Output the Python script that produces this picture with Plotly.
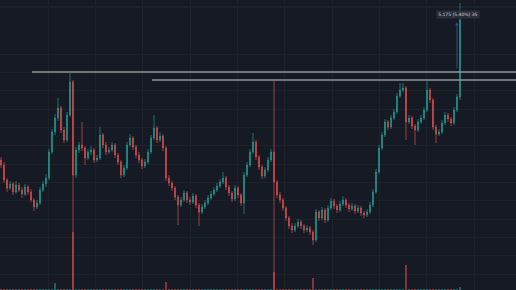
import plotly.graph_objects as go

# ---- data (prices) ----
closes = [
    4.575, 4.500, 4.460, 4.480, 4.440, 4.475, 4.450, 4.430, 4.465, 4.440,
    4.400, 4.365, 4.385, 4.450, 4.480, 4.510, 4.640, 4.740, 4.810, 4.860,
    4.750, 4.700, 4.825, 4.990, 4.525, 4.650, 4.675, 4.660, 4.610, 4.640,
    4.650, 4.600, 4.610, 4.725, 4.675, 4.640, 4.650, 4.675, 4.625, 4.590,
    4.525, 4.560, 4.675, 4.710, 4.665, 4.625, 4.600, 4.570, 4.590, 4.640,
    4.710, 4.760, 4.700, 4.720, 4.660, 4.510, 4.485, 4.460, 4.415, 4.375,
    4.400, 4.435, 4.400, 4.390, 4.420, 4.375, 4.340, 4.365, 4.385, 4.410,
    4.430, 4.450, 4.470, 4.490, 4.510, 4.465, 4.435, 4.405, 4.460, 4.425,
    4.385, 4.525, 4.575, 4.640, 4.690, 4.615, 4.565, 4.520, 4.550, 4.600,
    4.640, 4.490, 4.425, 4.400, 4.360, 4.310, 4.270, 4.250, 4.270, 4.290,
    4.270, 4.250, 4.260, 4.240, 4.200, 4.340, 4.310, 4.350, 4.300, 4.360,
    4.395, 4.370, 4.350, 4.380, 4.400, 4.375, 4.355, 4.370, 4.345, 4.360,
    4.335, 4.325, 4.340, 4.375, 4.440, 4.540, 4.660, 4.725, 4.790, 4.765,
    4.810, 4.840, 4.920, 4.950, 4.960, 4.790, 4.810, 4.770, 4.750, 4.790,
    4.810, 4.850, 4.950, 4.900, 4.765, 4.730, 4.740, 4.785, 4.825, 4.805,
    4.785, 4.850, 4.915, 5.300,
]
highs = [
    4.615, 4.590, 4.510, 4.495, 4.490, 4.495, 4.485, 4.465, 4.480, 4.475,
    4.455, 4.410, 4.400, 4.465, 4.495, 4.530, 4.655, 4.755, 4.830, 4.910,
    4.870, 4.765, 4.840, 5.035, 5.000, 4.665, 4.690, 4.790, 4.670, 4.655,
    4.670, 4.660, 4.625, 4.765, 4.735, 4.690, 4.665, 4.690, 4.685, 4.635,
    4.600, 4.575, 4.690, 4.730, 4.720, 4.675, 4.640, 4.610, 4.605, 4.655,
    4.725, 4.825, 4.770, 4.740, 4.730, 4.670, 4.525, 4.495, 4.470, 4.425,
    4.415, 4.450, 4.445, 4.415, 4.435, 4.430, 4.385, 4.380, 4.400, 4.425,
    4.445, 4.465, 4.485, 4.505, 4.540, 4.520, 4.475, 4.445, 4.475, 4.470,
    4.435, 4.540, 4.590, 4.655, 4.735, 4.700, 4.625, 4.575, 4.565, 4.615,
    4.655, 5.000, 4.500, 4.440, 4.410, 4.370, 4.320, 4.285, 4.285, 4.305,
    4.300, 4.280, 4.275, 4.270, 4.250, 4.355, 4.350, 4.365, 4.360, 4.375,
    4.410, 4.405, 4.380, 4.395, 4.420, 4.410, 4.385, 4.385, 4.380, 4.375,
    4.370, 4.345, 4.355, 4.390, 4.455, 4.555, 4.675, 4.740, 4.805, 4.800,
    4.825, 4.855, 4.935, 4.985, 4.985, 4.970, 4.825, 4.820, 4.780, 4.805,
    4.825, 4.865, 5.000, 4.960, 4.910, 4.775, 4.755, 4.800, 4.840, 4.835,
    4.815, 4.865, 4.930, 5.385,
]
lows = [
    4.560, 4.485, 4.440, 4.450, 4.425, 4.430, 4.440, 4.410, 4.420, 4.425,
    4.390, 4.345, 4.355, 4.375, 4.440, 4.465, 4.500, 4.630, 4.725, 4.795,
    4.735, 4.685, 4.690, 4.815, 3.900, 4.510, 4.635, 4.645, 4.575, 4.600,
    4.625, 4.585, 4.590, 4.600, 4.660, 4.625, 4.630, 4.640, 4.610, 4.575,
    4.510, 4.515, 4.550, 4.665, 4.650, 4.610, 4.585, 4.555, 4.560, 4.580,
    4.630, 4.700, 4.685, 4.690, 4.645, 4.495, 4.470, 4.445, 4.400, 4.275,
    4.365, 4.390, 4.385, 4.375, 4.380, 4.360, 4.270, 4.330, 4.355, 4.375,
    4.400, 4.420, 4.440, 4.460, 4.480, 4.450, 4.420, 4.390, 4.395, 4.410,
    4.370, 4.330, 4.515, 4.565, 4.630, 4.600, 4.550, 4.505, 4.510, 4.540,
    4.590, 3.900, 4.410, 4.385, 4.345, 4.295, 4.255, 4.235, 4.240, 4.260,
    4.255, 4.235, 4.240, 4.225, 4.175, 4.190, 4.295, 4.300, 4.285, 4.290,
    4.350, 4.355, 4.335, 4.340, 4.370, 4.360, 4.340, 4.345, 4.330, 4.335,
    4.320, 4.310, 4.315, 4.330, 4.365, 4.430, 4.530, 4.650, 4.715, 4.750,
    4.755, 4.800, 4.830, 4.910, 4.940, 4.700, 4.780, 4.755, 4.675, 4.740,
    4.780, 4.800, 4.840, 4.885, 4.750, 4.685, 4.720, 4.730, 4.775, 4.790,
    4.770, 4.775, 4.840, 4.900,
]
first_open = 4.600
opens = [first_open] + closes[:-1]

volumes = [
    0.2, 0.1, 0.2, 0.1, 0.2, 0.1, 0.2, 0.2, 0.1, 0.2,
    0.2, 0.1, 0.2, 0.2, 0.1, 0.2, 0.3, 0.2, 2.4, 0.2,
    0.2, 0.1, 0.2, 0.3, 20.0, 0.2, 0.1, 0.2, 0.1, 0.2,
    0.1, 0.2, 0.1, 0.2, 0.1, 0.2, 0.1, 0.2, 0.1, 0.2,
    0.2, 0.1, 0.2, 0.1, 0.2, 0.1, 0.2, 0.1, 0.2, 0.1,
    0.2, 0.1, 0.2, 0.1, 0.2, 2.8, 0.2, 0.1, 0.2, 0.1,
    0.2, 0.1, 0.2, 0.1, 0.2, 0.1, 0.2, 0.1, 0.2, 0.1,
    0.2, 0.1, 0.2, 0.1, 0.2, 0.1, 0.2, 0.1, 0.2, 0.1,
    0.2, 0.2, 0.1, 0.2, 0.1, 0.2, 0.1, 0.2, 0.1, 0.2,
    0.2, 6.2, 0.2, 0.1, 0.2, 0.1, 0.2, 0.1, 0.2, 0.1,
    0.2, 0.1, 0.2, 0.1, 4.1, 0.2, 0.1, 0.2, 0.1, 0.2,
    0.2, 0.1, 0.2, 0.1, 0.2, 0.1, 0.2, 0.1, 0.2, 0.1,
    0.2, 0.1, 0.2, 0.1, 0.2, 0.2, 0.1, 0.2, 0.1, 0.2,
    0.2, 0.1, 0.2, 0.1, 0.2, 8.6, 0.2, 0.1, 0.2, 0.1,
    0.2, 0.1, 0.2, 0.1, 0.2, 0.1, 0.2, 0.1, 0.2, 0.1,
    0.2, 0.1, 0.2, 1.0,
]
idx = list(range(len(closes)))

level_prices = [5.040, 5.000]
level_starts = [10.33, 50.33]

measure_at = 152
measure_from = 5.050
measure_to = 5.290
label_text = "5.175 (5.40%) 35"
label_price = 5.3275

# ---- style ----
BG = "#161a25"
GRID = "#1d212c"
UP = "#26a69a"
DOWN = "#ef5350"
X_MAX = 171.667

fig = go.Figure()

vol_colors = [UP if c >= o else DOWN for o, c in zip(opens, closes)]
fig.add_trace(go.Bar(
    x=idx, y=volumes, yaxis="y2", width=0.45,
    marker=dict(color=vol_colors, line=dict(width=0)),
    opacity=0.5, hoverinfo="skip",
))

fig.add_trace(go.Candlestick(
    x=idx, open=opens, high=highs, low=lows, close=closes,
    increasing=dict(line=dict(color=UP, width=0.7), fillcolor=UP),
    decreasing=dict(line=dict(color=DOWN, width=0.7), fillcolor=DOWN),
    whiskerwidth=0, hoverinfo="skip", opacity=0.9,
))

for lvl, start in zip(level_prices, level_starts):
    fig.add_trace(go.Scatter(
        x=[start, X_MAX], y=[lvl, lvl], mode="lines",
        line=dict(color="#8e9694", width=1.6), hoverinfo="skip",
    ))

fig.add_annotation(
    x=measure_at, y=measure_to, ax=measure_at, ay=measure_from,
    xref="x", yref="y", axref="x", ayref="y",
    text="", showarrow=True, arrowhead=2, arrowsize=0.7, arrowwidth=1,
    arrowcolor="#2c4c96",
)
fig.add_annotation(
    x=measure_at + 0.33, y=label_price, xref="x", yref="y",
    text=label_text, showarrow=False,
    font=dict(family="DejaVu Sans", size=4.5, color="#d1d4dc"),
    bgcolor="#2a2e39", borderpad=1.2,
)

fig.add_shape(type="line", xref="paper", yref="paper", x0=0, x1=1,
              y0=1 - 7 / 290, y1=1 - 7 / 290,
              line=dict(color="#262a35", width=1.2), layer="below")

x_grid = [15.667 + 15.778 * k for k in range(10)]
y_grid = [5.130 - 0.09167 * k for k in range(13)]

fig.update_layout(
    width=516, height=290,
    margin=dict(l=0, r=0, t=0, b=0),
    paper_bgcolor=BG, plot_bgcolor=BG,
    showlegend=False,
    boxgap=0.55,
    xaxis=dict(range=[-0.333, X_MAX], tickvals=x_grid, showticklabels=False,
               showgrid=True, gridcolor=GRID, gridwidth=1, zeroline=False,
               showline=False, ticks="", rangeslider=dict(visible=False),
               fixedrange=True),
    yaxis=dict(range=[3.95, 5.40], tickvals=y_grid, showticklabels=False,
               showgrid=True, gridcolor=GRID, gridwidth=1, zeroline=False,
               showline=False, ticks="", fixedrange=True),
    yaxis2=dict(range=[0, 100], overlaying="y", visible=False, fixedrange=True),
    bargap=0,
)

fig.write_html("out.html", config={"displayModeBar": False})
